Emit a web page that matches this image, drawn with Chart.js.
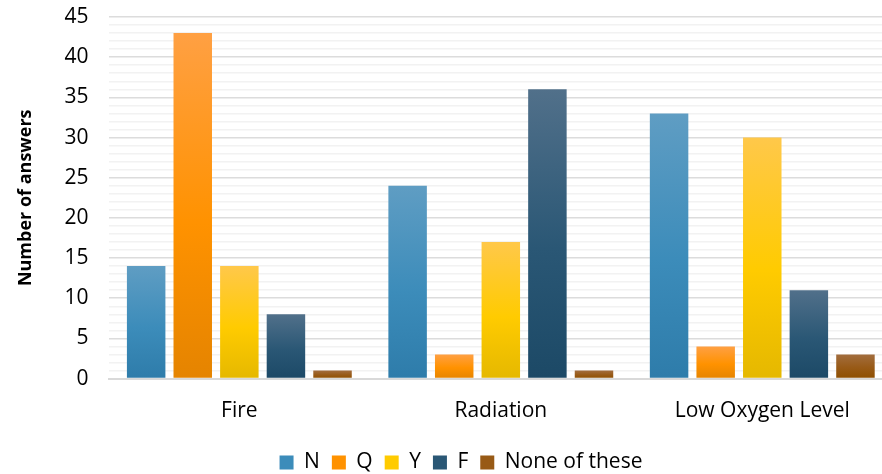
<!DOCTYPE html>
<html>
<head>
<meta charset="utf-8">
<script src="https://cdn.jsdelivr.net/npm/chart.js@4.4.1/dist/chart.umd.min.js"></script>
<style>
  html, body { margin: 0; padding: 0; background: #ffffff; overflow: hidden; }
  /* the plot runs slightly past the right edge of the page */
  #wrap { width: 882px; height: 474px; overflow: hidden; }
  #chart { display: block; }
</style>
</head>
<body>
<div id="wrap"><canvas id="chart" width="893" height="474"></canvas></div>
<script>
// Answers per hazard category
const categories = ['Fire', 'Radiation', 'Low Oxygen Level'];
const seriesNames = ['N', 'Q', 'Y', 'F', 'None of these'];
const valuesN = [14, 24, 33];
const valuesQ = [43, 3, 4];
const valuesY = [14, 17, 30];
const valuesF = [8, 36, 11];
const valuesNone = [1, 1, 3];

// Gradient stops per series: light top, base middle, darker bottom
const palettes = [
  ['#5f9dc3', '#3c8cba', '#2e7caa'],
  ['#ffa043', '#ff9200', '#e58400'],
  ['#ffc84a', '#ffcb00', '#e5b800'],
  ['#51708a', '#2a5775', '#1c4966'],
  ['#a26d3e', '#985a16', '#8e4f00']
];

const FONT = "'Open Sans', sans-serif";

function barGradient(idx) {
  return function (ctx) {
    const p = palettes[idx];
    if (ctx.type !== 'data' || !ctx.parsed) return p[1];
    const ys = ctx.chart.scales.y;
    const top = ys.getPixelForValue(ctx.parsed.y);
    const bottom = ys.getPixelForValue(0);
    if (!isFinite(top) || !isFinite(bottom) || top === bottom) return p[1];
    const g = ctx.chart.ctx.createLinearGradient(0, top, 0, bottom);
    g.addColorStop(0, p[0]);
    g.addColorStop(0.55, p[1]);
    g.addColorStop(1, p[2]);
    return g;
  };
}

const seriesValues = [valuesN, valuesQ, valuesY, valuesF, valuesNone];

new Chart(document.getElementById('chart'), {
  type: 'bar',
  data: {
    labels: categories,
    datasets: seriesNames.map((name, i) => ({
      label: name,
      data: seriesValues[i],
      backgroundColor: barGradient(i),
      borderWidth: 0,
      categoryPercentage: 0.891,
      barPercentage: 0.826
    }))
  },
  options: {
    responsive: false,
    animation: false,
    layout: { padding: { top: 17, right: 0, bottom: -9, left: 29 } },
    plugins: {
      tooltip: { enabled: false },
      legend: {
        position: 'bottom',
        title: { display: true, text: '', font: { size: 1 }, padding: { top: 3, bottom: 0 } },
        labels: {
          font: { family: FONT, size: 21 },
          color: '#000000',
          boxWidth: 14,
          boxHeight: 14,
          padding: 12,
          generateLabels: function (chart) {
            return seriesNames.map((name, i) => ({
              text: name,
              fillStyle: palettes[i][1],
              strokeStyle: palettes[i][1],
              lineWidth: 0,
              fontColor: '#000000',
              datasetIndex: i
            }));
          }
        }
      }
    },
    scales: {
      x: {
        grid: { display: false },
        border: { display: true, color: '#d9d9d9', width: 2 },
        ticks: {
          font: { family: FONT, size: 21 },
          color: '#000000',
          padding: 12
        }
      },
      y: {
        min: 0,
        max: 45,
        border: { display: false },
        grid: {
          drawTicks: true,
          tickLength: 17,
          tickColor: 'rgba(0,0,0,0)',
          color: (c) => (c.tick && c.tick.value % 5 === 0) ? '#dcdcdc' : '#f2f2f2',
          lineWidth: 1.5
        },
        ticks: {
          stepSize: 1,
          autoSkip: false,
          padding: 3,
          font: { family: FONT, size: 21 },
          color: '#000000',
          callback: (v) => (v % 5 === 0 ? String(v) : '')
        },
        title: {
          display: true,
          text: 'Number of answers',
          font: { family: FONT, size: 18, weight: 'bold' },
          color: '#000000',
          padding: { top: -14, bottom: 25 }
        }
      }
    }
  }
});
</script>
</body>
</html>
